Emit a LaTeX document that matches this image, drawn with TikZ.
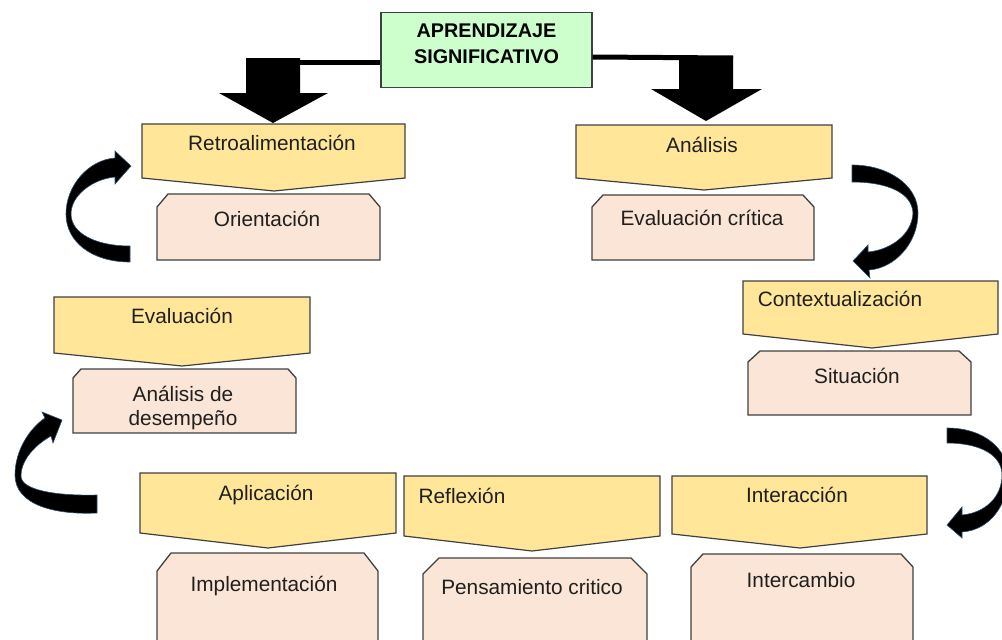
\documentclass[tikz,border=0pt]{standalone}
\usepackage{fontspec}
\setmainfont{Liberation Sans}
\definecolor{yfill}{HTML}{FFE699}
\definecolor{pfill}{HTML}{FBE5D6}
\definecolor{gfill}{HTML}{CCFFCC}
\definecolor{edge}{HTML}{404040}
\definecolor{glow}{HTML}{2F4F6F}
\tikzset{
  ystyle/.style={fill=yfill, draw=edge, line width=1.2pt, line join=miter},
  pstyle/.style={fill=pfill, draw=edge, line width=1.3pt},
  txt/.style={anchor=base, inner sep=0pt, font=\fontsize{20.8}{24}\selectfont, text=black!88},
  titlebox/.style={fill=gfill, draw=edge, line width=1.3pt, minimum width=211pt, minimum height=75pt, inner sep=0pt},
  titletxt/.style={anchor=base, inner sep=0pt, font=\fontsize{19.8}{22}\bfseries\selectfont},
  thickline/.style={line width=5pt, black},
  blockarrow/.style={fill=black},
  curvedarrow/.style={fill=black, draw=glow, line width=0.6pt}
}
\newcommand{\yshape}[6]{\draw[ystyle] (#1,#3) -- (#2,#3) -- (#2,#4) -- (#5,#6) -- (#1,#4) -- cycle;}
\newcommand{\pshape}[6]{\draw[pstyle] (#1,#4) -- (#1,#3+#6) -- (#1+#5,#3) -- (#2-#5,#3) -- (#2,#3+#6) -- (#2,#4) -- cycle;}
\begin{document}
\begin{tikzpicture}[x=1pt, y=-1pt]
\useasboundingbox (0,0) rectangle (1002,640);
\clip (0,0) rectangle (1002,640);

% title
\node[titlebox] (ap) at (486.5,50) {};
\node[titletxt] (ap1) at (486.5,37) {APRENDIZAJE};
\node[titletxt] (ap2) at (486.5,63) {SIGNIFICATIVO};

% block arrows
\coordinate (la) at (246,62);
\coordinate (ra) at (733,58);
\draw[thickline] ([yshift=-12pt]ap.west) -- (la);
\draw[thickline] ([yshift=-7pt]ap.east) -- (ra);
\fill[blockarrow] (246,58) -- (300,58) -- (300,93) -- (328,93) -- (273,123) -- (219,93) -- (246,93) -- cycle;
\fill[blockarrow] (679,56) -- (733,56) -- (733,89) -- (762,89) -- (706,121) -- (651,89) -- (679,89) -- cycle;

% yellow shapes
\yshape{142}{405}{124}{178}{274}{191}
\yshape{576}{832}{125}{178}{704}{190}
\yshape{743}{998}{281}{334}{872}{348}
\yshape{54}{310}{297}{353}{182}{366}
\yshape{140}{396}{473}{533}{268}{548}
\yshape{404}{660}{476}{536}{532}{551}
\yshape{672}{927}{476}{534}{800}{548}

% pink shapes
\pshape{157}{380}{194}{260}{11}{13}
\pshape{592}{814}{195}{260}{11}{12}
\pshape{748}{971}{351}{415}{12}{11}
\pshape{73}{296}{369}{433}{8}{9}
\pshape{157}{378}{553}{660}{14}{18}
\pshape{423}{647}{558}{660}{16}{16}
\pshape{691}{913}{554}{660}{12}{13}

% texts
\node[txt] (retro) at (272,150) {Retroalimentación};
\node[txt] (orient) at (267,226) {Orientación};
\node[txt] (anal) at (702,152) {Análisis};
\node[txt] (evcrit) at (702,225) {Evaluación crítica};
\node[txt] (context) at (840,306) {Contextualización};
\node[txt] (situ) at (857,383) {Situación};
\node[txt] (eval) at (182,323) {Evaluación};
\node[txt] (desemp1) at (183,401) {Análisis de};
\node[txt] (desemp2) at (183,425) {desempeño};
\node[txt] (aplic) at (266,500) {Aplicación};
\node[txt] (reflex) at (462,503) {Reflexión};
\node[txt] (implem) at (264,591) {Implementación};
\node[txt] (pensam) at (532,594) {Pensamiento critico};
\node[txt] (interac) at (797,502) {Interacción};
\node[txt] (interc) at (801,587) {Intercambio};

% curved arrows
% upper left
\draw[curvedarrow] (130,262) .. controls (92,262) and (66,242) .. (66,214)
  .. controls (66,186) and (88,160) .. (115,158) -- (115,151) -- (131,166) -- (115,184) -- (115,177)
  .. controls (93,179) and (71,195) .. (71,214) .. controls (71,233) and (95,246) .. (130,246) -- cycle;
% upper right
\draw[curvedarrow] (852,165) .. controls (888,165) and (918,185) .. (918,213)
  .. controls (918,243) and (895,268) .. (869,270) -- (870,278) -- (853,261) -- (868,245) -- (868,252)
  .. controls (890,250) and (912,235) .. (913,213) .. controls (912,193) and (888,182) .. (852,182) -- cycle;
% lower left
\draw[curvedarrow] (97,513) .. controls (55,515) and (15,505) .. (15,475)
  .. controls (15,450) and (30,428) .. (45,418) -- (42,412) -- (62,420) -- (53,443) -- (51,436)
  .. controls (35,445) and (21,460) .. (21,476) .. controls (21,490) and (55,496) .. (97,495) -- cycle;
% lower right
\draw[curvedarrow] (947,428) .. controls (985,428) and (1008,450) .. (1008,475)
  .. controls (1008,505) and (990,530) .. (962,532) -- (962,538) -- (947,525) -- (962,507) -- (962,515)
  .. controls (985,513) and (1002,497) .. (1002,475) .. controls (1002,455) and (980,443) .. (947,443) -- cycle;
\end{tikzpicture}
\end{document}
